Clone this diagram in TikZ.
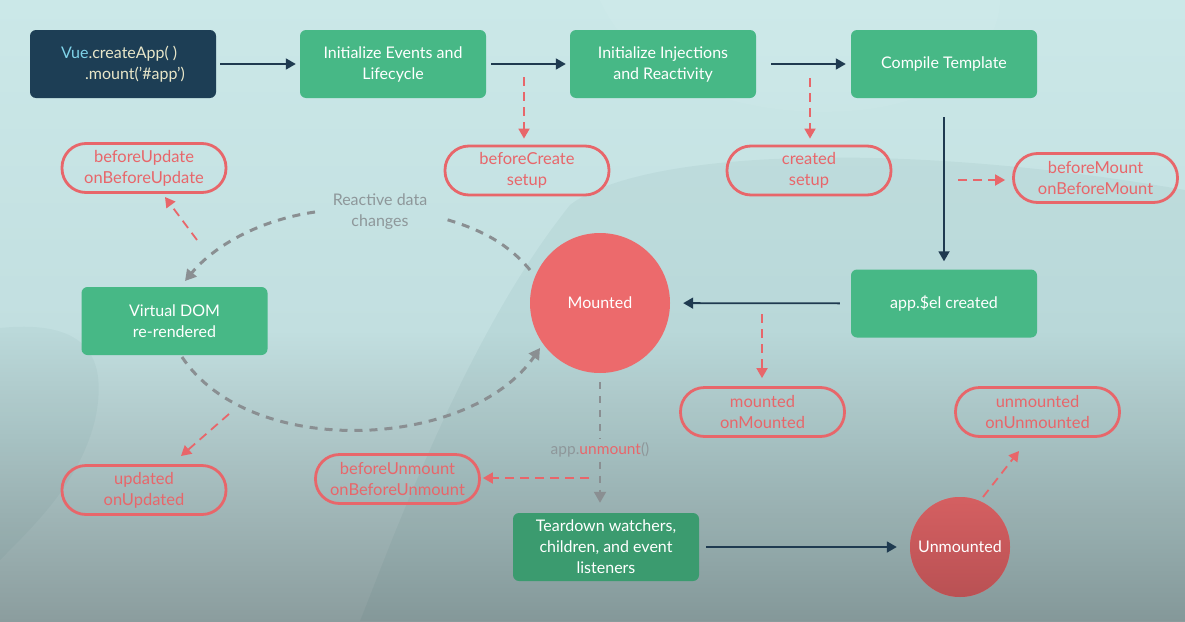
\documentclass[tikz,border=0pt]{standalone}
\usepackage{fontspec}
\setmainfont{Lato}
\usetikzlibrary{arrows.meta}
\definecolor{navy}{HTML}{1D3E55}
\definecolor{navyline}{HTML}{1F3A50}
\definecolor{vgreen}{HTML}{47B886}
\definecolor{vgreendark}{HTML}{3B9B6F}
\definecolor{pillred}{HTML}{E8666A}
\definecolor{circred}{HTML}{EC6A6C}
\definecolor{circdark}{HTML}{C9585B}
\definecolor{graydash}{HTML}{8A8F92}
\definecolor{graytext}{HTML}{8E979A}
\definecolor{vuecyan}{HTML}{80D4EA}
\definecolor{cream}{HTML}{E8E6C9}
\definecolor{bgtop}{HTML}{CBE8E8}
\definecolor{bgmid}{HTML}{C2DFE0}
\definecolor{bgbot}{HTML}{8B9D9E}
\newcommand{\lblfont}{\fontsize{16}{21}\selectfont}
\newcommand{\pillfont}{\fontsize{16.5}{21}\selectfont}
\tikzset{
  box/.style={fill=vgreen, rounded corners=6pt, minimum width=186pt, minimum height=68pt,
    text=white, align=center, font=\lblfont, inner sep=0pt},
  pill/.style={draw=pillred, line width=2.8pt, rounded corners=24pt, minimum width=164pt,
    minimum height=49pt, text=pillred, align=center, font=\pillfont, inner sep=0pt},
  navyarr/.style={draw=navyline, line width=1.8pt, -{Triangle[length=10pt,width=11pt]}},
  redarr/.style={draw=pillred, line width=1.8pt, dash pattern=on 9pt off 6pt,
    -{Triangle[length=10pt,width=11pt]}},
  grayarc/.style={draw=graydash, line width=3pt, dash pattern=on 8pt off 7pt},
  grayarrtip/.style={-{Triangle[length=11pt,width=12pt]}},
  graythin/.style={draw=graydash, line width=1.8pt, dash pattern=on 7pt off 7pt},
  circ/.style={circle, fill=circred, text=white, font=\lblfont, inner sep=0pt},
}
\begin{document}
\begin{tikzpicture}[x=1pt,y=-1pt]
\useasboundingbox (0,0) rectangle (1185,621);
% background
\fill[top color=bgtop, bottom color=bgmid] (0,0) rectangle (1185,331);
\fill[top color=bgmid, bottom color=bgbot] (0,330) rectangle (1185,621);
\fill[black!50!teal, opacity=0.045] (360,621) .. controls (400,520) and (470,330) .. (570,205)
  .. controls (640,150) and (900,140) .. (1185,190) -- (1185,621) -- cycle;
\fill[black!50!teal, opacity=0.035] (0,328) .. controls (80,320) and (110,350) .. (95,420)
  .. controls (80,480) and (40,520) .. (0,560) -- cycle;
\fill[white, opacity=0.05] (600,0) .. controls (640,90) and (760,120) .. (860,110)
  .. controls (960,100) and (1000,40) .. (1000,0) -- cycle;

% main boxes
\node[box, fill=navy, text=cream, align=left] (vue) at (123,64)
  {{\color{vuecyan}Vue}.createApp( )\\\hspace*{24pt}.mount(’\#app’)};
\node[box] (events) at (393,64) {Initialize Events and\\Lifecycle};
\node[box] (inject) at (663,64) {Initialize Injections\\and Reactivity};
\node[box] (compile) at (944,64) {Compile Template};
\node[box] (appel) at (944,303.5) {app.\$el created};
\node[box] (vdom) at (174.5,321) {Virtual DOM\\re-rendered};
\node[box, fill=vgreendark] (teardown) at (606,547) {Teardown watchers,\\children, and event\\listeners};

\node[circ, minimum size=140pt] (mounted) at (600,303) {Mounted};
\node[circ, minimum size=100pt, top color=circred!90!black, bottom color=circdark!92!black] (unmounted) at (960,547) {Unmounted};

% hook pills
\node[pill] (beforecreate) at (527,170.5) {beforeCreate\\setup};
\node[pill] (created) at (809,170.5) {created\\setup};
\node[pill] (beforemount) at (1095.5,178) {beforeMount\\onBeforeMount};
\node[pill] (mountedhook) at (762.5,412) {mounted\\onMounted};
\node[pill] (unmountedhook) at (1037.5,412) {unmounted\\onUnmounted};
\node[pill] (beforeunmount) at (397.5,479) {beforeUnmount\\onBeforeUnmount};
\node[pill] (updated) at (144,490) {updated\\onUpdated};
\node[pill] (beforeupdate) at (144,168) {beforeUpdate\\onBeforeUpdate};

% labels
\node[text=graytext, font=\lblfont, align=center] (reactive) at (380,212) {Reactive data\\changes};
\node[text=graytext, font=\fontsize{15.5}{18}\selectfont, inner sep=1pt] (unmountlbl) at (600,450)
  {app.{\color{pillred}unmount}()};

% navy flow arrows
\draw[navyarr, shorten <=4pt, shorten >=4pt] (vue) -- (events);
\draw[navyarr, shorten <=5pt, shorten >=4pt] (events) -- (inject);
\draw[navyarr, shorten <=15pt, shorten >=5pt] (inject) -- (compile);
\draw[navyarr, shorten <=19pt, shorten >=8pt] (compile) -- (appel);
\draw[navyarr, shorten <=11pt, shorten >=13pt] (appel) -- (mounted);
\draw[navyarr, shorten <=7pt, shorten >=13pt] (teardown) -- (unmounted);

% red hook arrows
\coordinate (bc0) at (524,77);
\coordinate (cr0) at (810,78);
\coordinate (bm0) at (958,180);
\coordinate (mh0) at (762,314);
\coordinate (uh0) at (983,497);
\coordinate (uh1) at (1019,451);
\coordinate (bu0) at (589,478);
\coordinate (up0) at (229,414);
\coordinate (up1) at (181,456);
\coordinate (bup0) at (197,240);
\coordinate (bup1) at (165,197);
\draw[redarr, shorten >=6pt] (bc0) -- (bc0 |- beforecreate.north);
\draw[redarr, shorten >=6pt] (cr0) -- (cr0 |- created.north);
\draw[redarr, shorten >=7pt] (bm0) -- (bm0 -| beforemount.west);
\draw[redarr, shorten >=8pt] (mh0) -- (mh0 |- mountedhook.north);
\draw[redarr] (uh0) -- (uh1);
\draw[redarr, shorten >=2pt] (bu0) -- (bu0 -| beforeunmount.east);
\draw[redarr] (up0) -- (up1);
\draw[redarr] (bup0) -- (bup1);

% gray reactive cycle
\coordinate (ra1) at (530,270);
\coordinate (ra2) at (445,219);
\coordinate (ra3) at (315,212);
\coordinate (ra4) at (185,281);
\coordinate (rb1) at (182,357);
\coordinate (rb2) at (540,348);
\draw[grayarc] (ra1) .. controls (505,240) and (475,228) .. (ra2);
\draw[grayarc, grayarrtip] (ra3) .. controls (260,220) and (215,245) .. (ra4);
\draw[grayarc, grayarrtip] (rb1) .. controls (250,460) and (470,450) .. (rb2);

% unmount path
\draw[graythin, shorten <=9pt, shorten >=3pt] (mounted.south -| unmountlbl) -- (unmountlbl.north);
\draw[graythin, grayarrtip, shorten <=3pt, shorten >=10pt] (unmountlbl.south) -- (unmountlbl.south |- teardown.north);
\end{tikzpicture}
\end{document}
